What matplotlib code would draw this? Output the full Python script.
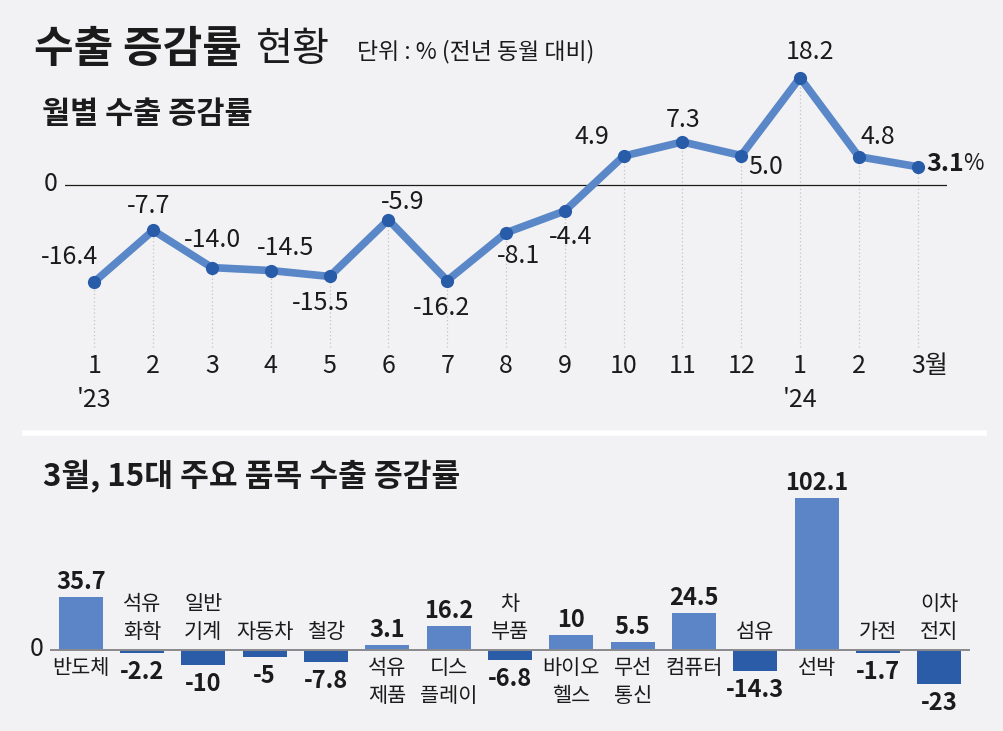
"""
수출 증감률 현황 — monthly export growth line + 15 major items bar chart.
Saves out.png (1004x731).
"""

import matplotlib
matplotlib.use("Agg")
import matplotlib.pyplot as plt

W, H = 1004, 731

BG        = "#f2f2f4"
INK       = "#1b1b1b"
LINE_BLUE = "#5a87c8"
DOT_BLUE  = "#285ba8"
BAR_POS   = "#5b85c6"
BAR_NEG   = "#2a5ca7"
GUIDE     = "#c4c4c8"

plt.rcParams.update({
    "font.family": ["Noto Sans CJK KR", "DejaVu Sans"],
    "text.color": INK,
})

# ── data ──────────────────────────────────────────────────────────────────────
MONTHS = ["1", "2", "3", "4", "5", "6", "7", "8", "9", "10", "11", "12", "1", "2", "3월"]
YEARS = ["'23", "", "", "", "", "", "", "", "", "", "", "", "'24", "", ""]
MONTHLY = [-16.4, -7.7, -14.0, -14.5, -15.5, -5.9, -16.2, -8.1, -4.4,
           4.9, 7.3, 5.0, 18.2, 4.8, 3.1]

ITEMS = ["반도체", "석유\n화학", "일반\n기계", "자동차", "철강", "석유\n제품",
         "디스\n플레이", "차\n부품", "바이오\n헬스", "무선\n통신", "컴퓨터",
         "섬유", "선박", "가전", "이차\n전지"]
ITEM_GROWTH = [35.7, -2.2, -10, -5, -7.8, 3.1, 16.2, -6.8, 10, 5.5, 24.5,
               -14.3, 102.1, -1.7, -23]
ITEM_TEXT = ["35.7", "-2.2", "-10", "-5", "-7.8", "3.1", "16.2", "-6.8", "10",
             "5.5", "24.5", "-14.3", "102.1", "-1.7", "-23"]

# label offsets (pixels) for the line chart values, last one handled separately
LINE_OFFSETS = [(-25, 25), (-5, 24), (1, 28), (15, 23), (-9, -27), (14, 18),
                (-6, -27), (12, -23), (6, -26), (-32, 19), (1, 22), (25, -12),
                (10, 26), (19, 20)]


def axes_px(fig, left, top, right, bottom):
    ax = fig.add_axes([left / W, 1 - bottom / H, (right - left) / W, (bottom - top) / H])
    ax.axis("off")
    return ax


def ftext(fig, x, y, s, **kw):
    fig.text(x / W, 1 - y / H, s, **kw)


fig = plt.figure(figsize=(W / 100, H / 100), dpi=100, facecolor=BG)

# ── headings ─────────────────────────────────────────────────────────────────
ftext(fig, 34, 49, "수출 증감률", fontsize=31, fontweight="bold", va="center")
ftext(fig, 256, 49, "현황", fontsize=29, va="center")
ftext(fig, 357, 52, "단위 : % (전년 동월 대비)", fontsize=16.5, va="center")
ftext(fig, 42, 114, "월별 수출 증감률", fontsize=22, fontweight="bold", va="center")
ftext(fig, 43, 477, "3월, 15대 주요 품목 수출 증감률", fontsize=22.5, fontweight="bold", va="center")

# divider
fig.add_artist(plt.Line2D([25 / W, 984 / W], [1 - 433 / H] * 2, color="white", lw=4))

# ── 1. monthly line ──────────────────────────────────────────────────────────
top_zero, top_scale = 185, 5.9
ax1 = axes_px(fig, 65, 40, 947, 400)
ax1.set_xlim(-0.5, 14.5)
ax1.set_ylim(-(400 - top_zero) / top_scale, (top_zero - 40) / top_scale)
x = list(range(len(MONTHLY)))

ax1.axhline(0, color=INK, lw=0.9, zorder=1)
ax1.vlines(x, -(347 - top_zero) / top_scale, MONTHLY, colors=GUIDE,
           linestyles=(0, (1, 2)), lw=0.9, zorder=0)
ax1.plot(x, MONTHLY, color=LINE_BLUE, lw=5.5, solid_joinstyle="round", zorder=2)
ax1.plot(x, MONTHLY, "o", ms=8.5, color=DOT_BLUE, zorder=3)
ftext(fig, 51, 184, "0", fontsize=18, ha="center", va="center")

for i, (v, off) in enumerate(zip(MONTHLY[:-1], LINE_OFFSETS)):
    ax1.annotate(f"{v:.1f}", (i, v), xytext=off, textcoords="offset pixels",
                 ha="center", va="center", fontsize=18, annotation_clip=False)
last = len(MONTHLY) - 1
ax1.annotate(f"{MONTHLY[-1]:.1f}", (last, MONTHLY[-1]), xytext=(9, 3),
             textcoords="offset pixels", ha="left", va="center", fontsize=18,
             fontweight="bold", annotation_clip=False)
ax1.annotate("%", (last, MONTHLY[-1]), xytext=(46, 3), textcoords="offset pixels",
             ha="left", va="center", fontsize=16, annotation_clip=False)

for i, (m, yr) in enumerate(zip(MONTHS, YEARS)):
    dx = 12 if m.endswith("월") else 0
    ax1.annotate(m, (i, H - 366), xycoords=("data", "figure pixels"),
                 xytext=(dx, 0), textcoords="offset pixels",
                 ha="center", va="center", fontsize=18, annotation_clip=False)
    if yr:
        ax1.annotate(yr, (i, H - 400), xycoords=("data", "figure pixels"),
                     ha="center", va="center", fontsize=18, annotation_clip=False)

# ── 2. 15 major items ────────────────────────────────────────────────────────
bot_zero, bot_scale = 650, 1.49
ax2 = axes_px(fig, 50, 480, 970, 725)
ax2.set_xlim(-0.5, 14.5)
ax2.set_ylim(-(725 - bot_zero) / bot_scale, (bot_zero - 480) / bot_scale)
colors = [BAR_POS if v > 0 else BAR_NEG for v in ITEM_GROWTH]
ax2.bar(range(len(ITEMS)), ITEM_GROWTH, width=0.72, color=colors, zorder=2)
ax2.axhline(0, color="#8a8a8e", lw=1.4, zorder=3)
ftext(fig, 37, 649, "0", fontsize=18, ha="center", va="center")

for i, (name, v, s) in enumerate(zip(ITEMS, ITEM_GROWTH, ITEM_TEXT)):
    if v > 0:
        ax2.annotate(s, (i, v), xytext=(0, 3), textcoords="offset pixels",
                     ha="center", va="bottom", fontsize=17, fontweight="bold",
                     annotation_clip=False)
        ax2.annotate(name, (i, 0), xytext=(0, -7), textcoords="offset pixels",
                     ha="center", va="top", fontsize=15, linespacing=1.35,
                     annotation_clip=False)
    else:
        ax2.annotate(name, (i, 0), xytext=(0, 7), textcoords="offset pixels",
                     ha="center", va="bottom", fontsize=15, linespacing=1.35,
                     annotation_clip=False)
        ax2.annotate(s, (i, v), xytext=(0, -7), textcoords="offset pixels",
                     ha="center", va="top", fontsize=17, fontweight="bold",
                     annotation_clip=False)

fig.savefig("out.png", dpi=100, facecolor=BG)
